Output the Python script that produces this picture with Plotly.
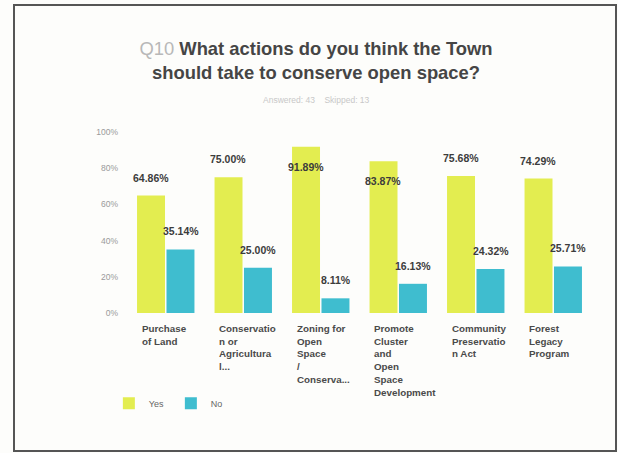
import plotly.graph_objects as go

categories = ["Purchase of Land", "Conservation or Agricultural", "Zoning for Open Space / Conservation",
              "Promote Cluster and Open Space Development", "Community Preservation Act", "Forest Legacy Program"]
cat_labels = ["Purchase<br>of Land", "Conservatio<br>n or<br>Agricultura<br>l...", "Zoning for<br>Open<br>Space<br>/<br>Conserva...",
              "Promote<br>Cluster<br>and<br>Open<br>Space<br>Development", "Community<br>Preservatio<br>n Act", "Forest<br>Legacy<br>Program"]
yes_vals = [64.86, 75.00, 91.89, 83.87, 75.68, 74.29]
no_vals = [35.14, 25.00, 8.11, 16.13, 24.32, 25.71]
y_ticks = [0, 20, 40, 60, 80, 100]
y_tick_text = ["0%", "20%", "40%", "60%", "80%", "100%"]

YES_COLOR = "#e3ed50"
NO_COLOR = "#3fbdcf"
FONT = "Liberation Sans, Arial, sans-serif"

fig = go.Figure()
fig.add_trace(go.Bar(name="Yes", x=categories, y=yes_vals, marker_color=YES_COLOR, marker_line_width=0))
fig.add_trace(go.Bar(name="No", x=categories, y=no_vals, marker_color=NO_COLOR, marker_line_width=0))

annotations = []
# value labels
for vals, shift in ((yes_vals, -15), (no_vals, 15)):
    for c, v in zip(categories, vals):
        inside = v > 80
        annotations.append(dict(
            x=c, y=v, xref="x", yref="y", text="<b>%.2f%%</b>" % v, showarrow=False,
            xshift=shift, yshift=(-20 if inside else 18), yanchor="middle",
            font=dict(family=FONT, size=10.5, color="#3c3c3c")))
# category labels (left-aligned under groups)
for c, lab in zip(categories, cat_labels):
    annotations.append(dict(
        x=c, y=0, xref="x", yref="y", text="<b>" + lab + "</b>", showarrow=False,
        xshift=-26, yshift=-8, xanchor="left", yanchor="top", align="left",
        font=dict(family=FONT, size=9.8, color="#4a4a4a")))
# subtitle
annotations.append(dict(
    x=0.4086, y=1.177, xref="paper", yref="paper", text="Answered: 43&nbsp;&nbsp;&nbsp; Skipped: 13",
    showarrow=False, yanchor="middle", font=dict(family=FONT, size=8.5, color="#c8c8c8")))

fig.update_layout(
    width=618, height=453,
    margin=dict(l=127, r=26, t=132, b=140),
    paper_bgcolor="#fdfdfb", plot_bgcolor="#fdfdfb",
    barmode="group", bargap=0.24, bargroupgap=0.05,
    title=dict(
        text="<span style='color:#b8b8b8'>Q10</span> <b>What actions do you think the Town<br>should take to conserve open space?</b>",
        x=316 / 618, xanchor="center", xref="container",
        y=1 - 55 / 453, yanchor="top", yref="container",
        font=dict(family=FONT, size=18.4, color="#454545")),
    xaxis=dict(showticklabels=False, showgrid=False, zeroline=False, showline=False, ticks=""),
    yaxis=dict(range=[0, 100], tickvals=y_ticks, ticktext=y_tick_text, showgrid=False, zeroline=False,
               showline=False, ticks="", tickfont=dict(family=FONT, size=8.5, color="#9a9a9a"),
               ticklabelstandoff=8),
    showlegend=True,
    legend=dict(orientation="h", x=-0.039, y=-0.418, xanchor="left", yanchor="top",
                font=dict(family=FONT, size=9, color="#666666"), bgcolor="rgba(0,0,0,0)",
                entrywidth=17, entrywidthmode="pixels", traceorder="normal"),
    annotations=annotations,
    shapes=[dict(type="rect", xref="paper", yref="paper",
                 x0=(14 - 127) / 465, x1=(616 - 127) / 465,
                 y0=(313 - 451) / 181, y1=(313 - 5) / 181,
                 line=dict(color="#555555", width=2), fillcolor="rgba(0,0,0,0)", layer="below")],
)

fig.write_html("out.html", config={"displayModeBar": False},
               post_script="document.body.style.margin='0';document.body.style.overflow='hidden';")
